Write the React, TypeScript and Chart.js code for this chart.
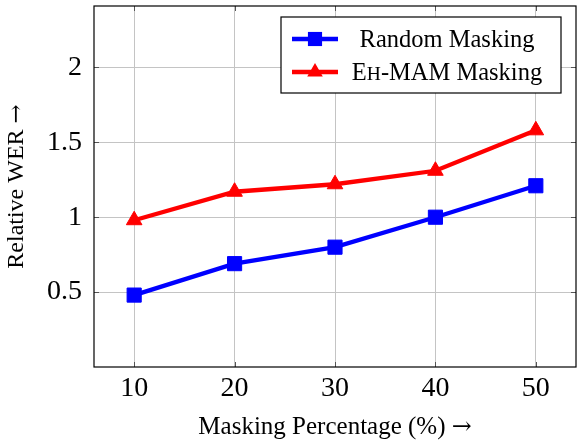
import React, { useEffect, useRef } from "react";
import { Chart, registerables } from "chart.js";

Chart.register(...registerables);

const maskingPct = [10, 20, 30, 40, 50];
const randomMasking = [0.48, 0.69, 0.8, 1.0, 1.21];
const ehMamMasking = [0.98, 1.17, 1.22, 1.31, 1.58];
const xTicks = [10, 20, 30, 40, 50];
const yTicks = [0.5, 1, 1.5, 2];
const xTitleParts: [string, string][] = [["Masking Percentage (%) ", "serif"], ["→", "arrow"]];
const yTitleParts: [string, string][] = [["Relative WER ", "serif"], ["→", "arrow"]];

const SERIF = "'Liberation Serif', 'DejaVu Serif', serif";
const ARROW = "'DejaVu Serif', serif";

function drawParts(ctx: CanvasRenderingContext2D, parts: [string, string][], size: number, cx: number, baseline: number) {
  let total = 0;
  parts.forEach(([t, f]) => {
    ctx.font = `${f === "arrow" ? size * 0.95 : size}px ${f === "arrow" ? ARROW : SERIF}`;
    total += ctx.measureText(t).width;
  });
  let x = cx - total / 2;
  parts.forEach(([t, f]) => {
    ctx.font = `${f === "arrow" ? size * 0.95 : size}px ${f === "arrow" ? ARROW : SERIF}`;
    ctx.fillText(t, x, baseline);
    x += ctx.measureText(t).width;
  });
}

function drawMarker(ctx: CanvasRenderingContext2D, style: string, r: number, x: number, y: number) {
  ctx.beginPath();
  if (style === "rect") {
    const s = Math.SQRT1_2 * r;
    ctx.rect(x - s, y - s, 2 * s, 2 * s);
  } else {
    const t = (2 * Math.PI) / 3;
    ctx.moveTo(x, y - r);
    ctx.lineTo(x + Math.sin(t) * r, y - Math.cos(t) * r);
    ctx.lineTo(x + Math.sin(2 * t) * r, y - Math.cos(2 * t) * r);
    ctx.closePath();
  }
  ctx.fill();
}

const framePlugin = {
  id: "frame",
  afterDraw(chart: any) {
    const { ctx, chartArea: a, scales } = chart;
    const xs = scales.x;
    const ys = scales.y;
    ctx.save();
    // inner tick marks
    ctx.strokeStyle = "#555";
    ctx.lineWidth = 1;
    ctx.beginPath();
    const tl = 5;
    xTicks.forEach((v) => {
      const px = Math.round(xs.getPixelForValue(v)) + 0.5;
      ctx.moveTo(px, a.bottom);
      ctx.lineTo(px, a.bottom - tl);
      ctx.moveTo(px, a.top);
      ctx.lineTo(px, a.top + tl);
    });
    yTicks.forEach((v) => {
      const py = Math.round(ys.getPixelForValue(v)) + 0.5;
      ctx.moveTo(a.left, py);
      ctx.lineTo(a.left + tl, py);
      ctx.moveTo(a.right, py);
      ctx.lineTo(a.right - tl, py);
    });
    ctx.stroke();
    // frame
    ctx.strokeStyle = "#000";
    ctx.lineWidth = 1.2;
    ctx.strokeRect(a.left, a.top, a.right - a.left, a.bottom - a.top);

    // axis titles
    ctx.fillStyle = "#000";
    ctx.textBaseline = "alphabetic";
    ctx.textAlign = "left";
    drawParts(ctx, xTitleParts, 25, (a.left + a.right) / 2, 434);
    ctx.save();
    ctx.translate(23, (a.top + a.bottom) / 2);
    ctx.rotate(-Math.PI / 2);
    drawParts(ctx, yTitleParts, 24, 0, 0);
    ctx.restore();

    // legend
    const bx = a.left + 187;
    const by = a.top + 11;
    const bw = 280;
    const bh = 76;
    ctx.fillStyle = "#fff";
    ctx.fillRect(bx, by, bw, bh);
    ctx.lineWidth = 1.2;
    ctx.strokeStyle = "#000";
    ctx.strokeRect(bx, by, bw, bh);

    const rows = [by + 22, by + 55];
    const textCx = bx + 166;
    chart.data.datasets.forEach((ds: any, i: number) => {
      const y = rows[i];
      ctx.strokeStyle = ds.borderColor;
      ctx.lineWidth = ds.borderWidth;
      ctx.beginPath();
      ctx.moveTo(bx + 11, y);
      ctx.lineTo(bx + 57, y);
      ctx.stroke();
      ctx.fillStyle = ds.pointBackgroundColor;
      drawMarker(ctx, ds.pointStyle, ds.pointRadius, bx + 34, y);
      ctx.fillStyle = "#000";
      ctx.textBaseline = "alphabetic";
      ctx.textAlign = "left";
      const parts: [string, number][] = ds.legendParts;
      let total = 0;
      parts.forEach(([t, s]) => {
        ctx.font = `${s}px ${SERIF}`;
        total += ctx.measureText(t).width;
      });
      let tx = textCx - total / 2;
      parts.forEach(([t, s]) => {
        ctx.font = `${s}px ${SERIF}`;
        ctx.fillText(t, tx, y + 8);
        tx += ctx.measureText(t).width;
      });
    });
    ctx.restore();
  },
};

export default function App() {
  const ref = useRef<HTMLCanvasElement | null>(null);
  useEffect(() => {
    document.body.style.margin = "0";
    const canvas = ref.current!;
    const chart = new Chart(canvas, {
      type: "line",
      data: {
        datasets: [
          {
            label: "Random Masking",
            legendParts: [["Random Masking", 24.5]],
            data: maskingPct.map((x, i) => ({ x, y: randomMasking[i] })),
            borderColor: "#0000ff",
            backgroundColor: "#0000ff",
            pointBackgroundColor: "#0000ff",
            pointBorderColor: "#0000ff",
            pointStyle: "rect",
            pointRadius: 10,
            pointBorderWidth: 1,
            borderWidth: 4.3,
            tension: 0,
          } as any,
          {
            label: "EH-MAM Masking",
            legendParts: [["E", 24.5], ["H", 19.5], ["-MAM Masking", 24.5]],
            data: maskingPct.map((x, i) => ({ x, y: ehMamMasking[i] })),
            borderColor: "#ff0000",
            backgroundColor: "#ff0000",
            pointBackgroundColor: "#ff0000",
            pointBorderColor: "#ff0000",
            pointStyle: "triangle",
            pointRadius: 9,
            pointBorderWidth: 1,
            borderWidth: 4.3,
            tension: 0,
          } as any,
        ],
      },
      options: {
        responsive: false,
        animation: false,
        devicePixelRatio: 1,
        layout: { autoPadding: false, padding: { top: 6, right: 1, left: 0, bottom: 0 } },
        plugins: { legend: { display: false }, tooltip: { enabled: false } },
        scales: {
          x: {
            type: "linear",
            min: 6,
            max: 54,
            afterBuildTicks: (s: any) => {
              s.ticks = xTicks.map((v) => ({ value: v }));
            },
            afterFit: (s: any) => {
              s.height = 75;
              s.paddingLeft = 0;
              s.paddingRight = 0;
              s.paddingTop = 0;
              s.paddingBottom = 0;
            },
            grid: { color: "#c4c4c4", lineWidth: 1, drawTicks: false },
            border: { display: false },
            ticks: {
              color: "#000",
              font: { family: SERIF, size: 28 },
              padding: 5,
              maxRotation: 0,
              callback: (v: any) => String(v),
            },
            title: { display: false },
          },
          y: {
            type: "linear",
            min: 0,
            max: 2.41,
            afterBuildTicks: (s: any) => {
              s.ticks = yTicks.map((v) => ({ value: v }));
            },
            afterFit: (s: any) => {
              s.width = 94;
              s.paddingLeft = 0;
              s.paddingRight = 0;
              s.paddingTop = 0;
              s.paddingBottom = 0;
            },
            grid: { color: "#c4c4c4", lineWidth: 1, drawTicks: false },
            border: { display: false },
            ticks: {
              color: "#000",
              font: { family: SERIF, size: 28 },
              padding: 12,
              callback: (v: any) => String(v),
            },
            title: { display: false },
          },
        },
      },
      plugins: [framePlugin],
    });
    return () => chart.destroy();
  }, []);
  return <canvas ref={ref} width={577} height={442} style={{ display: "block" }} />;
}
